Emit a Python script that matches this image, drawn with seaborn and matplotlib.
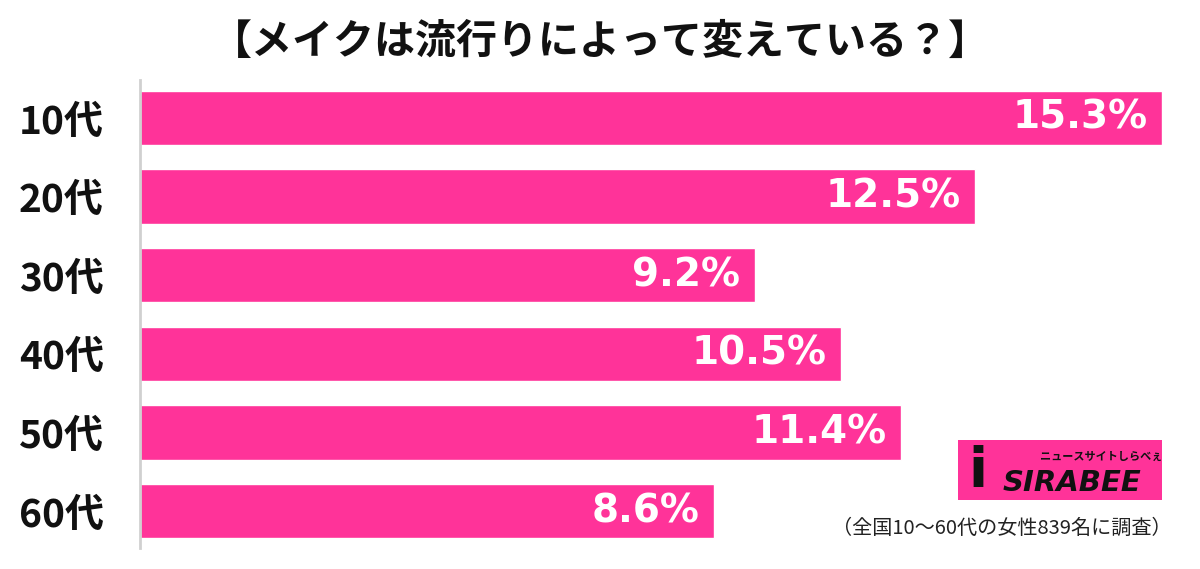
import matplotlib
matplotlib.use("Agg")
import matplotlib.pyplot as plt
import seaborn as sns
import pandas as pd
from matplotlib.patches import Rectangle

categories = ["10代", "20代", "30代", "40代", "50代", "60代"]
values = [15.3, 12.5, 9.2, 10.5, 11.4, 8.6]
title = "【メイクは流行りによって変えている？】"
note = "（全国10〜60代の女性839名に調査）"

sns.set_theme(style="white")
plt.rcParams['font.family'] = ['Noto Sans CJK JP', 'DejaVu Sans']

df = pd.DataFrame({"cat": categories, "val": values})
fig = plt.figure(figsize=(12, 5.69), dpi=100)
ax = fig.add_axes([140/1200, 1-548/569, 1022/1200, (548-80)/569])
sns.barplot(data=df, x="val", y="cat", orient="h", color="#FF3399",
            saturation=1, width=0.69, ax=ax)
ax.set_xlim(0, 15.3)
ax.set_ylim(5.47, -0.483)
ax.set_xlabel("")
ax.set_ylabel("")
ax.set_xticks([])
for s in ["top", "right", "bottom"]:
    ax.spines[s].set_visible(False)
ax.spines["left"].set_color("#d0d0d0")
ax.spines["left"].set_linewidth(2)
ax.tick_params(axis="y", length=0, pad=26)
ax.set_yticks(range(len(categories)))
ax.set_yticklabels(categories, fontsize=28, fontweight="bold", color="#111111")

for i, v in enumerate(values):
    ax.text(v - 0.22, i, f"{v}%", ha="right", va="center", color="white",
            fontsize=28, fontweight="bold", family=["DejaVu Sans"])

fig.text(0.5, 1-42/569, title, ha="center", va="center", fontsize=29.5,
         fontweight="bold", color="#111111")
fig.text(1172/1200, 1-528/569, note, ha="right", va="center", fontsize=14.5,
         color="#222222")

# logo
fig.patches.append(Rectangle((958/1200, 1-500/569), 204/1200, 60/569,
                             transform=fig.transFigure, facecolor="#FF3399",
                             edgecolor="none"))
fig.text(1003/1200, 1-483/569, "SIRABEE", ha="left", va="center", fontsize=21,
         fontweight="heavy", style="italic", color="#111111", family=["DejaVu Sans"])
fig.text(1040/1200, 1-456/569, "ニュースサイトしらべぇ", ha="left", va="center",
         fontsize=8, fontweight="bold", color="#111111")
fig.text(978/1200, 1-472/569, "i", ha="center", va="center", fontsize=40,
         fontweight="heavy", color="#111111", family=["DejaVu Sans"])

fig.savefig("out.png", dpi=100, facecolor="white")
